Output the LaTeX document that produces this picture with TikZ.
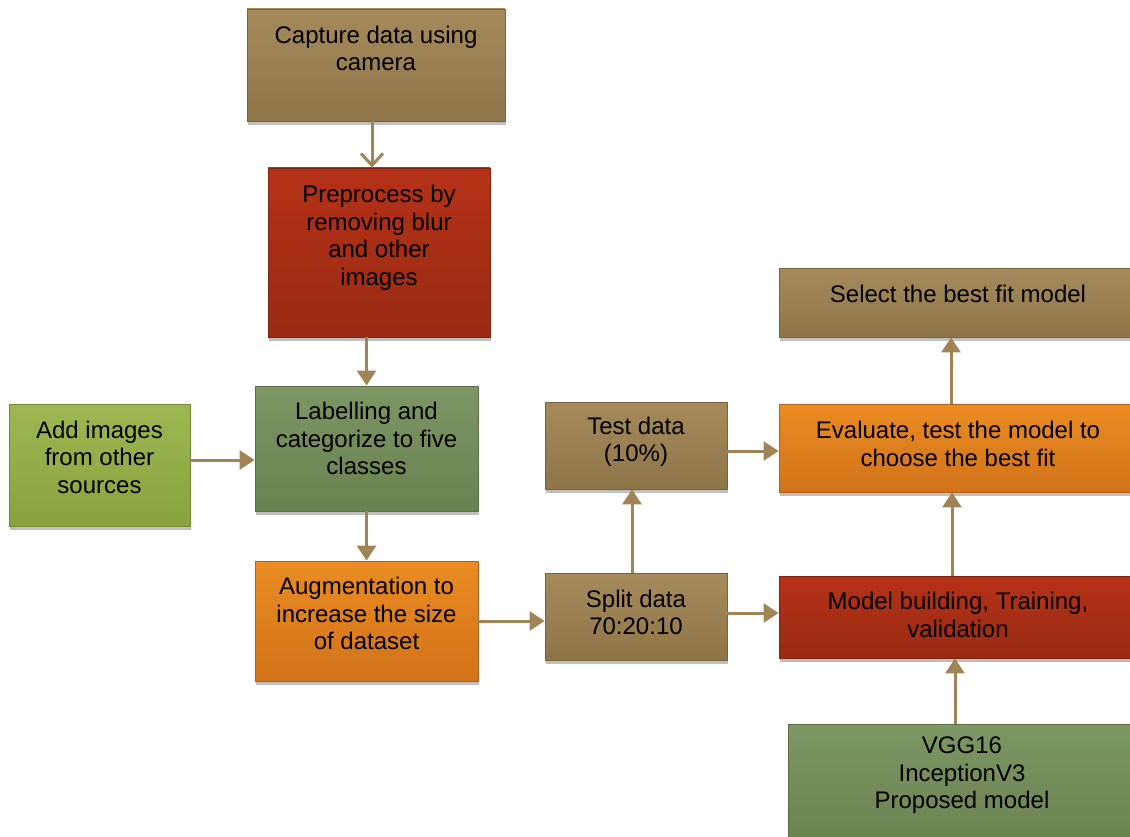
\documentclass[tikz,border=0pt]{standalone}
\usepackage{fontspec}
\setmainfont{Liberation Sans}
\usetikzlibrary{arrows.meta,shadows,positioning}

\definecolor{tanT}{HTML}{A68A5C}
\definecolor{tanB}{HTML}{8E7548}
\definecolor{redT}{HTML}{B53217}
\definecolor{redB}{HTML}{982A12}
\definecolor{olvT}{HTML}{7C9664}
\definecolor{olvB}{HTML}{6A824F}
\definecolor{limT}{HTML}{9DB752}
\definecolor{limB}{HTML}{88A33D}
\definecolor{orgT}{HTML}{EA8C22}
\definecolor{orgB}{HTML}{D2721A}
\definecolor{flowc}{HTML}{A08456}

\tikzstyle{box} = [rectangle, inner sep=0pt, line width=0.8pt, drop shadow={shadow xshift=1pt,shadow yshift=-4pt,fill=black!25,opacity=1}]
\tikzstyle{tanbox} = [box, top color=tanT, bottom color=tanB, draw=tanB!85!black]
\tikzstyle{redbox} = [box, top color=redT, bottom color=redB, draw=redB!85!black]
\tikzstyle{olvbox} = [box, top color=olvT, bottom color=olvB, draw=olvB!85!black]
\tikzstyle{limbox} = [box, top color=limT, bottom color=limB, draw=limB!85!black]
\tikzstyle{orgbox} = [box, top color=orgT, bottom color=orgB, draw=orgB!85!black]
\tikzstyle{txt} = [font=\fontsize{24}{27.5}\selectfont, align=center, text=black, inner sep=0pt]
\tikzstyle{flow} = [draw=flowc, line width=3pt, -{Triangle[length=15pt,width=19pt]}]
\tikzstyle{flowv} = [draw=flowc, line width=3pt, -{Straight Barb[length=12pt,width=22pt]}]

\begin{document}
\begin{tikzpicture}[x=1pt,y=-1pt]
\useasboundingbox (0,0) rectangle (1130,837);
\clip (0,0) rectangle (1130,837);

% left column
\node[tanbox, minimum width=258pt, minimum height=112pt,
  label={[txt,yshift=16.5pt]center:{Capture data using\\camera}}] (cap) at (376,65) {};
\node[redbox, minimum width=222pt, minimum height=169pt,
  label={[txt,yshift=14.5pt]center:{Preprocess by\\removing blur\\and other\\images}}] (prep) at (379,252.5) {};
\node[olvbox, minimum width=223pt, minimum height=125pt,
  label={[txt,yshift=10pt]center:{Labelling and\\categorize to five\\classes}}] (lab) at (366.5,448.5) {};
\node[limbox, minimum width=181pt, minimum height=122pt,
  label={[txt,yshift=8pt]center:{Add images\\from other\\sources}}] (add) at (99.5,465) {};
\node[orgbox, minimum width=223pt, minimum height=120pt,
  label={[txt,yshift=7.5pt]center:{Augmentation to\\increase the size\\of dataset}}] (aug) at (366.5,621) {};

% middle column
\node[tanbox, minimum width=182pt, minimum height=87pt,
  label={[txt,yshift=4pt]center:{Split data\\70:20:10}}] (split) at (636,616.5) {};
\node[tanbox, minimum width=182pt, minimum height=87pt,
  label={[txt,yshift=3.5pt]center:{Test data\\(10\%)}}] (test) at (636,445.5) {};

% right column
\node[tanbox, minimum width=358pt, minimum height=69pt,
  label={[txt,yshift=8.5pt]center:{Select the best fit model}}] (sel) at (958,302.5) {};
\node[orgbox, minimum width=358pt, minimum height=88pt,
  label={[txt,yshift=4pt]center:{Evaluate, test the model to\\choose the best fit}}] (eval) at (958,448) {};
\node[redbox, minimum width=358pt, minimum height=82pt,
  label={[txt,yshift=2pt]center:{Model building, Training,\\validation}}] (model) at (958,617) {};
\node[olvbox, minimum width=348pt, minimum height=126pt,
  label={[txt,yshift=11.5pt]center:{VGG16\\InceptionV3\\Proposed model}}] (vgg) at (962,787) {};

% connectors
\draw[flowv] ([xshift=-4pt]cap.south) -- ([xshift=-4pt]cap.south |- prep.north);
\draw[flow] (lab.north |- prep.south) -- (lab.north);
\draw[flow] ([yshift=5pt]add.east) -- ([yshift=5pt]add.east -| lab.west);
\draw[flow] (lab.south) -- (aug.north);
\draw[flow] (aug.east) -- (aug.east -| split.west);
\draw[flow] ([xshift=-4pt]split.north) -- ([xshift=-4pt]test.south);
\draw[flow] ([yshift=-5.5pt]test.east) -- ([yshift=-5.5pt]test.east -| eval.west);
\draw[flow] ([yshift=3.5pt]split.east) -- ([yshift=3.5pt]split.east -| model.west);
\draw[flow] ([xshift=-6pt]model.north) -- ([xshift=-6pt]eval.south);
\draw[flow] ([xshift=-7pt]eval.north) -- ([xshift=-7pt]sel.south);
\draw[flow] ([xshift=-7pt]vgg.north) -- ([xshift=-7pt]vgg.north |- model.south);

\end{tikzpicture}
\end{document}
